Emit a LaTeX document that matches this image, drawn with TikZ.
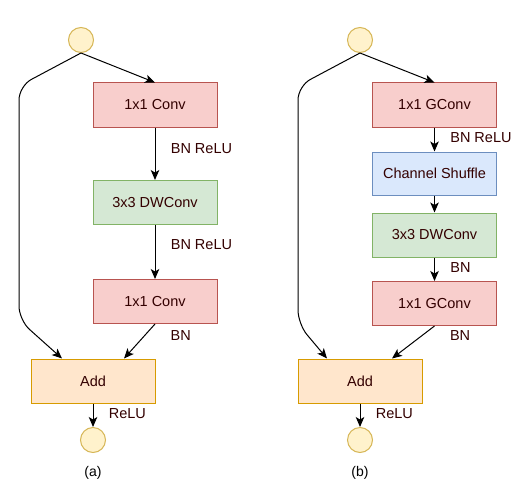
\documentclass[tikz,border=0pt]{standalone}
\usepackage{fontspec}
\setmainfont{Liberation Sans}
\usetikzlibrary{arrows.meta}
\definecolor{txt}{HTML}{330000}
\definecolor{convfill}{HTML}{F8CECC}
\definecolor{convline}{HTML}{B85450}
\definecolor{dwfill}{HTML}{D5E8D4}
\definecolor{dwline}{HTML}{82B366}
\definecolor{shfill}{HTML}{DAE8FC}
\definecolor{shline}{HTML}{6C8EBF}
\definecolor{addfill}{HTML}{FFE6CC}
\definecolor{addline}{HTML}{D79B00}
\definecolor{iofill}{HTML}{FFF2CC}
\definecolor{ioline}{HTML}{D6B656}
\tikzset{>={Stealth[length=10pt,width=8.5pt,inset=2.5pt]},
	every node/.style={font=\fontsize{14.5}{17}\selectfont, text=txt},
	block/.style={rectangle, draw, minimum width=124pt, minimum height=44pt},
	conv/.style={block, fill=convfill, draw=convline},
	dwconv/.style={block, fill=dwfill, draw=dwline},
	shuffle/.style={block, fill=shfill, draw=shline, minimum height=43pt},
	addbox/.style={block, fill=addfill, draw=addline},
	io/.style={circle, draw=ioline, fill=iofill, minimum size=25pt, inner sep=0pt},
	lbl/.style={anchor=west, xshift=12pt},
	subcap/.style={font=\fontsize{14}{16}\selectfont, text=black}}

\begin{document}
\begin{tikzpicture}[x=1pt, y=-1pt, line width=1pt]
	\useasboundingbox (0,0) rectangle (521,492);
	% (a)
	\node[io] (ain) at (81,40) {};
	\node[conv] (a1) at (155,105) {1x1 Conv};
	\node[dwconv] (a2) at (155,202.5) {3x3 DWConv};
	\node[conv] (a3) at (155,301.5) {1x1 Conv};
	\node[addbox] (aadd) at (93,381) {Add};
	\node[io] (aout) at (93,440) {};
	\node[subcap] (acap) at (93,473) {(a)};
	\path[->]
		(ain.south) edge (a1.north)
		(a1) edge node[lbl, pos=0.41] {BN ReLU} (a2)
		(a2) edge node[lbl, pos=0.36] {BN ReLU} (a3)
		(a3.south) edge node[lbl, pos=0.33, xshift=10pt] {BN} ([xshift=31pt]aadd.north)
		(aadd) edge node[lbl, pos=0.42] {ReLU} (aout)
		;
	\draw[->, rounded corners=14pt] (ain.south) -- (19,86) -- (19,320) -- ([xshift=-31pt]aadd.north);

	% (b)
	\node[io] (bin) at (360,40) {};
	\node[conv] (b1) at (434.5,105) {1x1 GConv};
	\node[shuffle] (b2) at (434.5,173.5) {Channel Shuffle};
	\node[dwconv] (b3) at (434.5,235) {3x3 DWConv};
	\node[conv] (b4) at (434.5,303.5) {1x1 GConv};
	\node[addbox] (badd) at (360,381) {Add};
	\node[io] (bout) at (360,440) {};
	\node[subcap] (bcap) at (360,473) {(b)};
	\path[->]
		(bin.south) edge (b1.north)
		(b1) edge node[lbl, pos=0.4] {BN ReLU} (b2)
		(b2) edge (b3)
		(b3) edge node[lbl, pos=0.44] {BN} (b4)
		(b4.south) edge node[lbl, pos=0.29, xshift=12pt] {BN} ([xshift=32pt]badd.north)
		(badd) edge node[lbl, pos=0.42] {ReLU} (bout)
		;
	\draw[->, rounded corners=14pt] (bin.south) -- (298,86) -- (298,324) -- ([xshift=-33pt]badd.north);
\end{tikzpicture}
\end{document}
